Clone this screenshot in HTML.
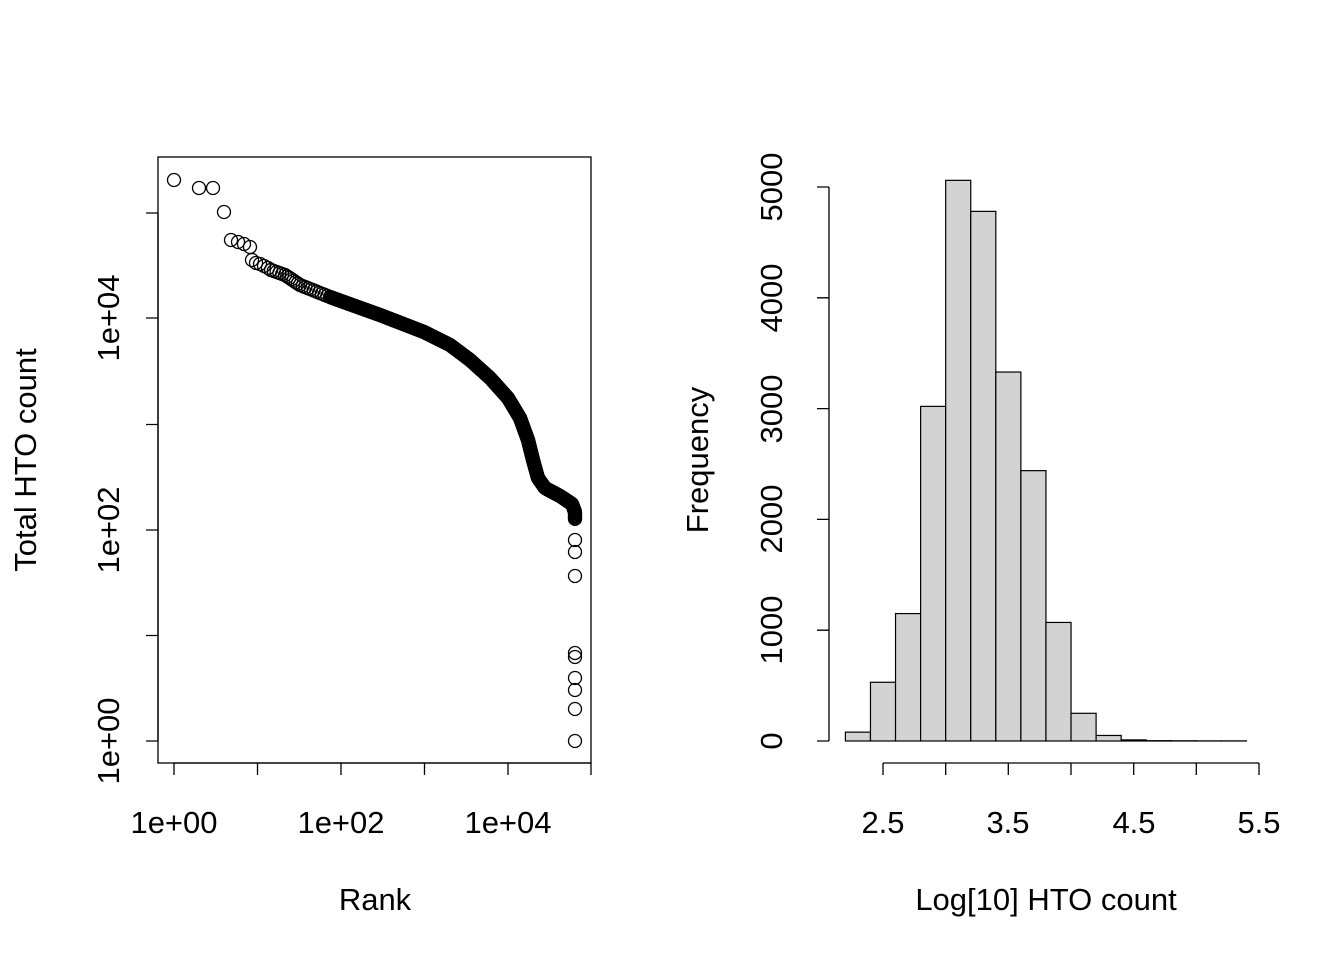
<!DOCTYPE html>
<html><head><meta charset="utf-8"><style>body{margin:0;background:#fff}svg{display:block}text{font-family:"Liberation Sans",sans-serif;font-size:31px;fill:#000}</style></head>
<body>
<svg id="s" width="1344" height="960" xmlns="http://www.w3.org/2000/svg">
<g fill="none" stroke="#000" stroke-width="1.3">
<rect x="158" y="157" width="433" height="606"/>
<path d="M174 763V775M257.5 763V775M341 763V775M424.5 763V775M508 763V775M591 763V775M174 763H591"/>
<path d="M158 741H146M158 635.5H146M158 530H146M158 424.5H146M158 318H146M158 213H146M158 213V741"/>
<path d="M883 763V775M945.7 763V775M1008.3 763V775M1071 763V775M1133.7 763V775M1196.3 763V775M1259 763V775M883 763H1259"/>
<path d="M829 741H817M829 630.2H817M829 519.4H817M829 408.6H817M829 297.8H817M829 187H817M829 187V741"/>
</g>
<g id="bars" fill="#d3d3d3" stroke="#000" stroke-width="1.2"></g>
<g id="pts" fill="none" stroke="#000" stroke-width="1.3"></g>
<g text-anchor="middle">
<text x="174" y="833">1e+00</text><text x="341" y="833">1e+02</text><text x="508" y="833">1e+04</text>
<text x="375" y="910">Rank</text>
<text x="883" y="833">2.5</text><text x="1008" y="833">3.5</text><text x="1134" y="833">4.5</text><text x="1259" y="833">5.5</text>
<text x="1046" y="910">Log[10] HTO count</text>
<text transform="translate(119,741) rotate(-90)">1e+00</text>
<text transform="translate(119,530) rotate(-90)">1e+02</text>
<text transform="translate(119,318) rotate(-90)">1e+04</text>
<text transform="translate(36,460) rotate(-90)">Total HTO count</text>
<text transform="translate(782,741) rotate(-90)">0</text>
<text transform="translate(782,630) rotate(-90)">1000</text>
<text transform="translate(782,519) rotate(-90)">2000</text>
<text transform="translate(782,409) rotate(-90)">3000</text>
<text transform="translate(782,298) rotate(-90)">4000</text>
<text transform="translate(782,187) rotate(-90)">5000</text>
<text transform="translate(708,460) rotate(-90)">Frequency</text>
</g>
</svg>
<script>
var NS="http://www.w3.org/2000/svg";
function el(p,t,a){var e=document.createElementNS(NS,t);for(var k in a)e.setAttribute(k,a[k]);document.getElementById(p).appendChild(e);}
var f=[80,530,1150,3020,5060,4780,3330,2440,1070,250,50,10,3,2,1,1];
for(var i=0;i<f.length;i++){var x=845.4+i*25.07,h=f[i]*0.1108;el("bars","rect",{x:x,y:741-h,width:25.07,height:h});}
var single=[[174,180],[199,188],[213,188],[224,212],[231,240],[238,242],[244,244],[250,247],[252,260],[256,263],[260,264],[264,266],[268,268],[271,270]];
single.forEach(function(p){el("pts","circle",{cx:p[0],cy:p[1],r:6.5});});
var path=[[271,270],[285,275],[300,285],[330,297],[341,301],[380,315],[424,332],[450,345],[470,360],[490,378],[508,398],[520,418],[528,440],[533,460],[538,478],[545,488],[560,496],[572,504],[575,512],[575,520]];
for(var j=0;j<path.length-1;j++){var a=path[j],b=path[j+1],d=Math.hypot(b[0]-a[0],b[1]-a[1]),step=a[0]<330?3:1.2,n=Math.ceil(d/step);for(var k=0;k<n;k++){var t=k/n;el("pts","circle",{cx:a[0]+(b[0]-a[0])*t,cy:a[1]+(b[1]-a[1])*t,r:6.5});}}
[540,552,576,653,657,678,690,709,741].forEach(function(y){el("pts","circle",{cx:575,cy:y,r:6.5});});
</script>
</body></html>
